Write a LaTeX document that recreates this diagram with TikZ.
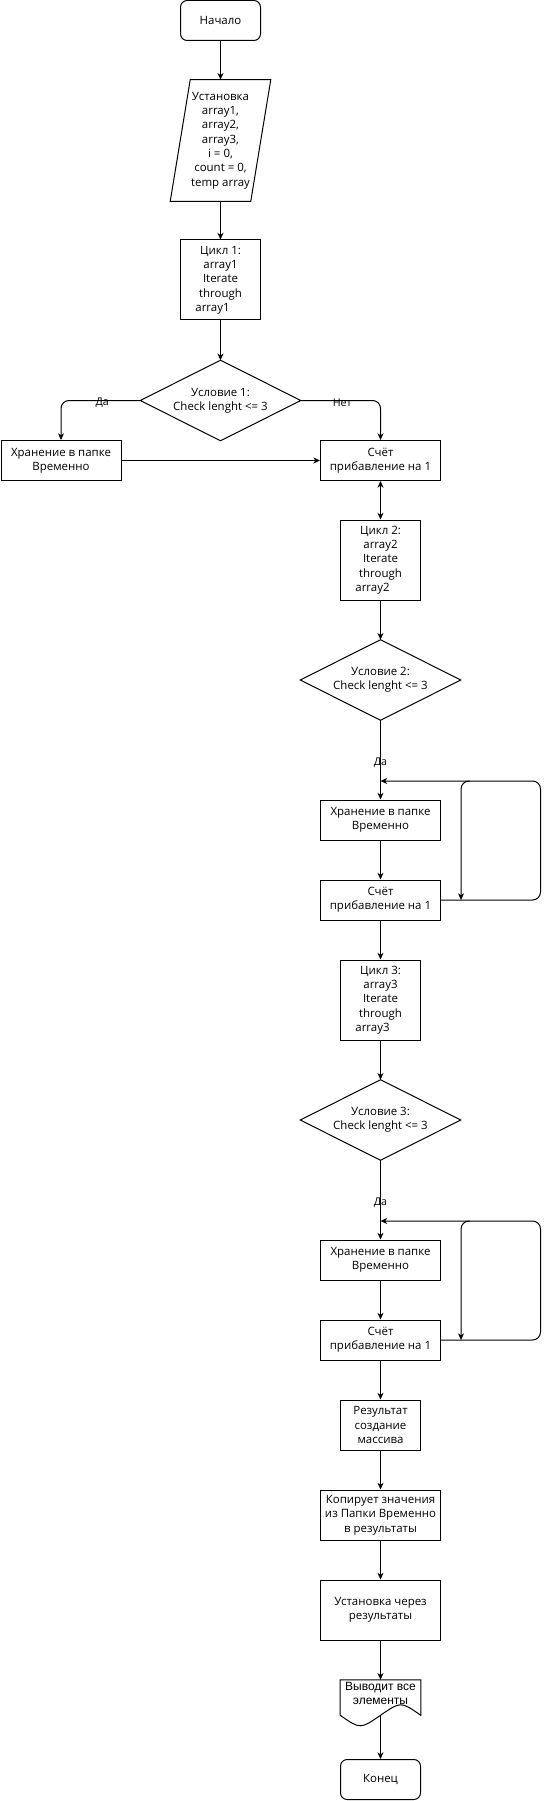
\documentclass[tikz,border=0pt]{standalone}
\usepackage{fontspec}
\setmainfont{Open Sans}
\newfontfamily\arialfont{Liberation Sans}
\usetikzlibrary{arrows.meta}

\begin{document}
\begin{tikzpicture}[x=0.75pt, y=-0.75pt,
        every node/.style={font=\fontsize{8.6pt}{10.75pt}\selectfont, align=center, inner sep=0pt},
        stepbox/.style={rectangle, draw, line width=0.75pt, minimum width=90pt, minimum height=30pt},
        loopbox/.style={stepbox, minimum width=60pt, minimum height=60pt},
        termbox/.style={stepbox, rounded corners=5pt, minimum width=60pt},
        condbox/.style={rectangle, minimum width=120pt, minimum height=60pt},
        lbl/.style={font=\fontsize{8pt}{9pt}\selectfont},
        arr/.style={-{Stealth[length=5pt, width=4.5pt, inset=1.5pt]}, line width=0.75pt},
        arrboth/.style={{Stealth[length=5pt, width=4.5pt, inset=1.5pt]}-{Stealth[length=5pt, width=4.5pt, inset=1.5pt]}, line width=0.75pt}
      ]
      \useasboundingbox (0, 0) rectangle (549, 1801);

      % top part
      \node[termbox] at (220.5, 20.5) (start) {Начало};
      \node[minimum width=75pt, minimum height=90.75pt] at (220.5, 140.5) (init) {Установка\\ array1,\\ array2,\\ array3,\\ i = 0,\\ count = 0,\\ temp array};
      \draw[line width=0.75pt] ([xshift=15pt]init.north west) -- (init.north east) -- ([xshift=-15pt]init.south east) -- (init.south west) -- cycle;
      \node[loopbox] at (220.5, 280) (cyc1) {Цикл 1:\\ array1\\ Iterate\\ through\\ \hspace*{-12pt}array1};
      \node[condbox] at (220.5, 400.5) (cond1) {Условие 1:\\ Check lenght <= 3};
      \draw[line width=0.75pt] (cond1.north) -- (cond1.east) -- (cond1.south) -- (cond1.west) -- cycle;
      \node[stepbox] at (61, 460.5) (store1) {Хранение в папке\\ Временно};
      \node[stepbox] at (380.5, 460.5) (cnt1) {Счёт\\ прибавление на 1};

      % second loop
      \node[loopbox] at (380.5, 560) (cyc2) {Цикл 2:\\ array2\\ Iterate\\ through\\ \hspace*{-12pt}array2};
      \node[condbox] at (380.5, 680) (cond2) {Условие 2:\\ Check lenght <= 3};
      \draw[line width=0.75pt] (cond2.north) -- (cond2.east) -- (cond2.south) -- (cond2.west) -- cycle;
      \node[stepbox] at (380.5, 820) (store2) {Хранение в папке\\ Временно};
      \node[stepbox] at (380.5, 900) (cnt2) {Счёт\\ прибавление на 1};
      \coordinate (in2) at (380.5, 781);
      \coordinate (back2) at (540.5, 781);
      \coordinate (drop2) at (470, 781);

      % third loop
      \node[loopbox] at (380.5, 1000) (cyc3) {Цикл 3:\\ array3\\ Iterate\\ through\\ \hspace*{-12pt}array3};
      \node[condbox] at (380.5, 1120) (cond3) {Условие 3:\\ Check lenght <= 3};
      \draw[line width=0.75pt] (cond3.north) -- (cond3.east) -- (cond3.south) -- (cond3.west) -- cycle;
      \node[stepbox] at (380.5, 1260) (store3) {Хранение в папке\\ Временно};
      \node[stepbox] at (380.5, 1340) (cnt3) {Счёт\\ прибавление на 1};
      \coordinate (in3) at (380.5, 1221);
      \coordinate (back3) at (540.5, 1221);
      \coordinate (drop3) at (470, 1221);

      % result part
      \node[stepbox, minimum width=60pt, minimum height=37.5pt] at (380.5, 1425) (res) {Результат\\ создание\\ массива};
      \node[stepbox, minimum height=37.5pt] at (380.5, 1515) (copy) {Копирует значения\\ из Папки Временно\\ в результаты};
      \node[stepbox, minimum height=45pt] at (380.5, 1610) (setres) {Установка через\\ результаты};
      \node[minimum width=60pt, minimum height=26.25pt] at (380.5, 1697.5) (out) {};
      \draw[line width=0.75pt] (out.north west) -- (out.north east) -- (out.south east)
        .. controls ([xshift=-15pt, yshift=10.5pt]out.south east) .. (out.south)
        .. controls ([xshift=15pt, yshift=-10.5pt]out.south west) .. (out.south west) -- cycle;
      \node[font=\arialfont\fontsize{9pt}{11pt}\selectfont] at (380.5, 1693.5) (outtext) {Выводит все\\ элементы};
      \node[termbox] at (380.5, 1779.5) (end) {Конец};

      % edges
      \draw[arr] (start) -- (init);
      \draw[arr] (init) -- (cyc1);
      \draw[arr] (cyc1) -- (cond1);
      \draw[arr, rounded corners=6pt] (cond1.west) -| node[lbl, pos=0.24, yshift=-2pt] {Да} (store1.north);
      \draw[arr, rounded corners=6pt] (cond1.east) -| node[lbl, pos=0.26, yshift=-2pt] {Нет} (cnt1.north);
      \draw[arr] (store1) -- (cnt1);
      \draw[arrboth] (cnt1) -- (cyc2);

      \draw[arr] (cyc2) -- (cond2);
      \draw[arr] (cond2.south) -- node[lbl, pos=0.53] {Да} (store2);
      \draw[arr] (store2) -- (cnt2);
      \draw[arr, rounded corners=6pt] (cnt2.east) -| (back2) -- (in2);
      \draw[arr, rounded corners=6pt] (drop2) -| ([xshift=15pt]cnt2.east);
      \draw[arr] (cnt2) -- (cyc3);

      \draw[arr] (cyc3) -- (cond3);
      \draw[arr] (cond3.south) -- node[lbl, pos=0.53] {Да} (store3);
      \draw[arr] (store3) -- (cnt3);
      \draw[arr, rounded corners=6pt] (cnt3.east) -| (back3) -- (in3);
      \draw[arr, rounded corners=6pt] (drop3) -| ([xshift=15pt]cnt3.east);
      \draw[arr] (cnt3) -- (res);

      \draw[arr] (res) -- (copy);
      \draw[arr] (copy) -- (setres);
      \draw[arr] (setres) -- (out);
      \draw[arr] (out.south) -- (end);
  \end{tikzpicture}
\end{document}
